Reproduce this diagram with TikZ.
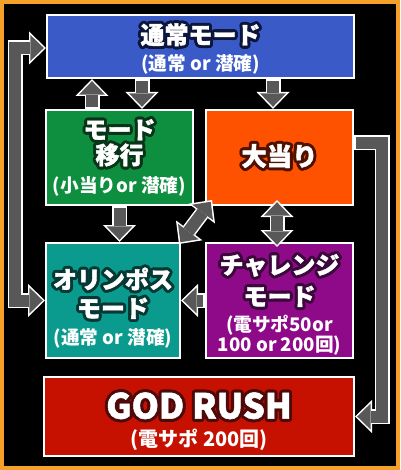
\documentclass[tikz,border=0pt]{standalone}
\usepackage{fontspec}
\setmainfont{Noto Sans CJK JP}
\newfontfamily\heavyfont{Noto Sans CJK JP}[BoldFeatures={FakeBold=1.5}]
\usepackage[copies]{contour}
\usetikzlibrary{arrows.meta,calc}

\newlength{\pxu}\setlength{\pxu}{0.75pt}

\definecolor{framecol}{RGB}{245,160,40}
\definecolor{arrowgray}{RGB}{88,88,88}
\definecolor{normalblue}{RGB}{58,90,200}
\definecolor{normalline}{RGB}{12,22,60}
\definecolor{shiftgreen}{RGB}{14,143,64}
\definecolor{shiftline}{RGB}{8,52,24}
\definecolor{bonusorange}{RGB}{255,82,0}
\definecolor{bonusline}{RGB}{80,18,0}
\definecolor{olyteal}{RGB}{10,154,142}
\definecolor{olyline}{RGB}{6,56,52}
\definecolor{chalpurple}{RGB}{142,10,136}
\definecolor{challine}{RGB}{58,8,58}
\definecolor{godred}{RGB}{198,16,0}
\definecolor{godline}{RGB}{78,10,10}

\contourlength{2.2pt}
\contournumber{20}

% arrow sizes in pt (1px = 0.75pt)
\tikzset{
  modebox/.style={draw=white, line width=1.5pt, text=white, align=center,
    inner sep=0pt, font=\heavyfont\bfseries\fontsize{18}{19}\selectfont},
  arrowedge/.style={white, line width=11.25pt, line join=miter,
    >={Triangle[length=12.75pt,width=24.75pt,line width=0pt]}},
  arrowcore/.style={arrowgray, line width=9pt, line join=miter,
    shorten >=1.65pt, shorten <=1.65pt,
    >={Triangle[length=10pt,width=19.4pt,line width=0pt]}},
}
\newcommand{\subtxt}[1]{{\normalfont\bfseries\fontsize{14}{16}\selectfont #1}}
\newcommand{\fatarrow}[2]{\draw[arrowedge,#1] #2; \draw[arrowcore,#1] #2;}

\begin{document}
\begin{tikzpicture}[x=0.75pt,y=-0.75pt]
  \useasboundingbox (0,0) rectangle (400,470);
  \fill[black] (0,0) rectangle (400,470);
  \draw[framecol, line width=3pt] (2,2) rectangle (398,468);

  % boxes
  \node[modebox, fill=normalblue, minimum width=307\pxu, minimum height=63\pxu]
    (normal) at (200.5,46.5) {\rule{0pt}{19pt}\contour{normalline}{通常モード}\\[1pt]\subtxt{(通常 or 潜確)}};
  \node[modebox, fill=shiftgreen, minimum width=147\pxu, minimum height=95\pxu]
    (shift) at (119.5,157.5) {\contour{shiftline}{モード}\\\contour{shiftline}{移行}\\[2pt]\subtxt{(小当りor 潜確)}};
  \node[modebox, fill=bonusorange, minimum width=147\pxu, minimum height=95\pxu,
    font=\heavyfont\bfseries\fontsize{19}{20}\selectfont]
    (bonus) at (279.5,157.5) {\contour{bonusline}{大当り}};
  \node[modebox, fill=olyteal, minimum width=134\pxu, minimum height=115\pxu]
    (olympus) at (113,300.5) {\rule{0pt}{27pt}\contour{olyline}{オリンポス}\\[2.5pt]\contour{olyline}{モード}\\[1.5pt]\subtxt{(通常 or 潜確)}};
  \node[modebox, fill=chalpurple, minimum width=147\pxu, minimum height=115\pxu]
    (challenge) at (279.5,300.5) {\rule{0pt}{21pt}\contour{challine}{チャレンジ}\\[4.5pt]\contour{challine}{モード}\\[0.4pt]\subtxt{(電サポ50or}\\[-4pt]\subtxt{100 or 200回)}};
  \node[modebox, fill=godred, minimum width=310\pxu, minimum height=79\pxu,
    font=\heavyfont\bfseries\fontsize{26}{27}\selectfont]
    (god) at (199,416.5) {\rule{0pt}{27.5pt}\contour{godline}{GOD RUSH}\\[-5.8pt]{\normalfont\bfseries\fontsize{15}{17}\selectfont (電サポ 200回)}};

  % arrows
  \fatarrow{->}{($(shift.north)+(-27.5,0)$) -- ($(normal.south)+(-108.5,0)$)}
  \fatarrow{->}{($(normal.south)+(-58.5,0)$) -- ($(shift.north)+(22.5,0)$)}
  \fatarrow{->}{($(normal.south)+(72.5,0)$) -- ($(bonus.north)+(-6.5,0)$)}
  \fatarrow{->}{(shift.south) -- ($(olympus.north)+(6.5,0)$)}
  \fatarrow{<->}{($(olympus.north east)+(-2,2)$) -- ($(bonus.south west)+(7,-6)$)}
  \fatarrow{<->}{($(bonus.south)+(-2.5,-6)$) -- ($(challenge.north)+(-2.5,5)$)}
  \fatarrow{->}{(challenge.west) -- (olympus.east)}
  \fatarrow{<->}{($(normal.west)+(0,1.5)$) -- ++(-31,0) |- (olympus.west)}
  \fatarrow{->}{($(bonus.east)+(0,-14.5)$) -- ++(28,0) |- (god.east)}
\end{tikzpicture}
\end{document}
